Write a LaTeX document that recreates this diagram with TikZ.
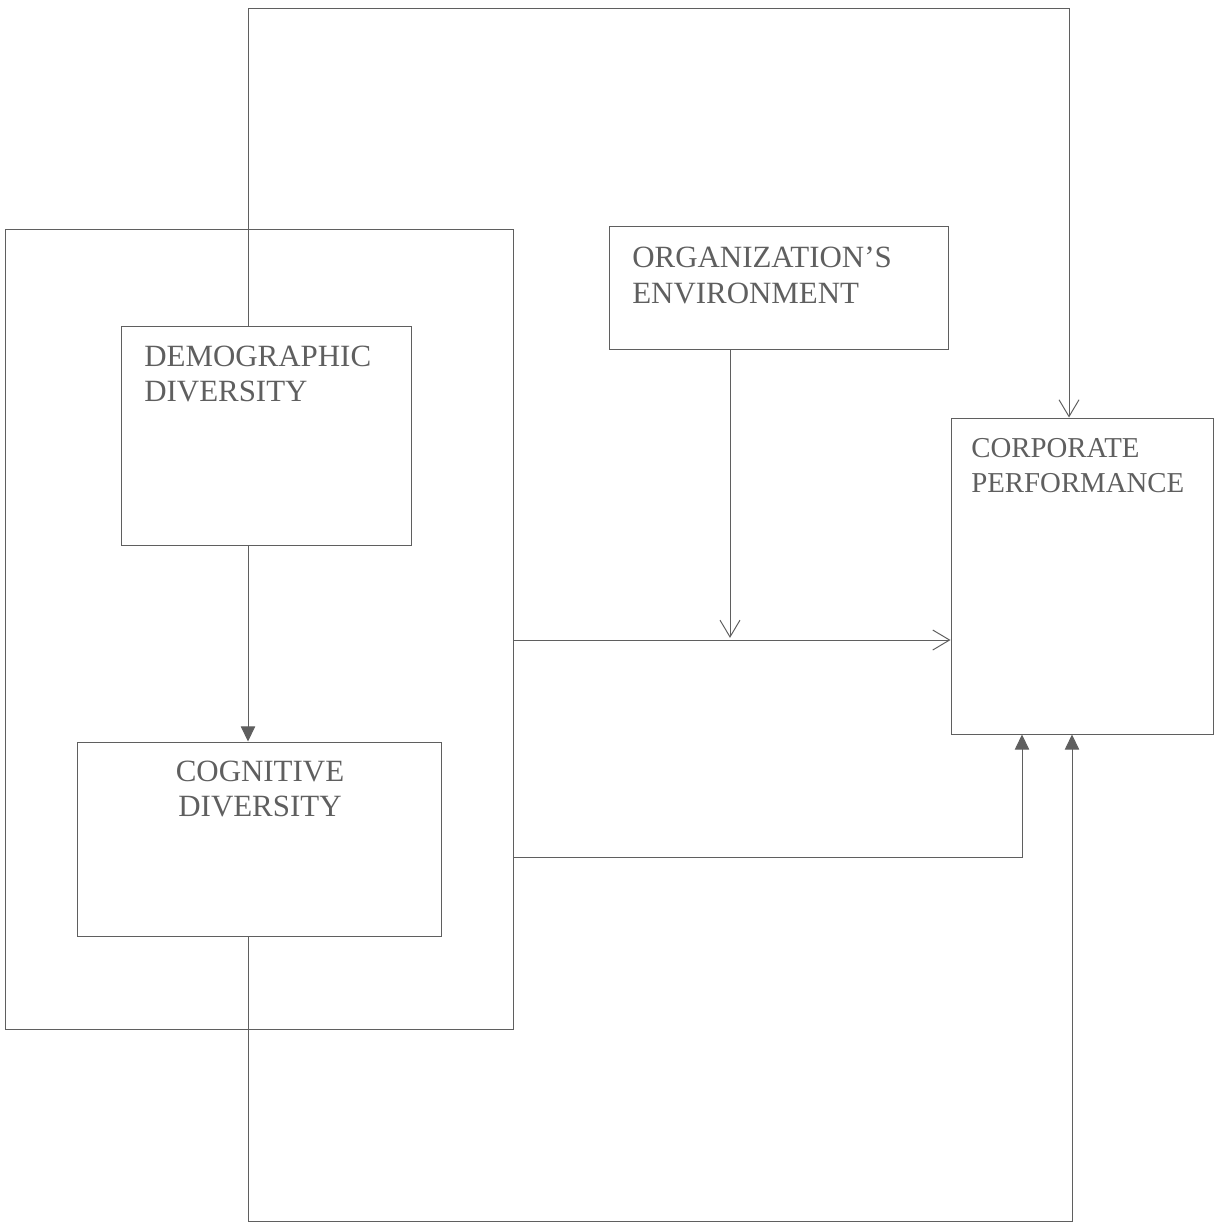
\documentclass[tikz,border=0pt]{standalone}
\usepackage{fontspec}
\setmainfont{Liberation Serif}
\usetikzlibrary{arrows.meta, fit}
\definecolor{inkgray}{RGB}{95,95,95}

\begin{document}
\begin{tikzpicture}[x=0.025cm, y=-0.025cm,
  blk/.style={draw=inkgray, line width=0.7pt, inner sep=0pt},
  lbl/.style={font=\fontsize{22}{25}\selectfont, text=inkgray, inner sep=0pt, align=left},
  wire/.style={draw=inkgray, line width=0.7pt},
  arrV/.style={wire, -{Straight Barb[length=4.2mm, width=5mm]}},
  arrT/.style={wire, -{Triangle[length=3.8mm, width=3.6mm]}}
]
  \useasboundingbox (0,0) rectangle (1220,1224);

  % boxes
  \node[blk, fit={(5,229) (513,1029)}] (team) {};
  \node[blk, fit={(121,326) (411,545)}] (demo) {};
  \node[blk, fit={(77,742) (441,936)}] (cog) {};
  \node[blk, fit={(609,226) (948,349)}] (env) {};
  \node[blk, fit={(951,418) (1213,734)}] (cp) {};

  % labels
  \node[lbl, anchor=north west] (demotxt) at (144,346) {DEMOGRAPHIC\\DIVERSITY};
  \node[lbl, anchor=north, align=center] (cogtxt) at (260,761) {COGNITIVE\\DIVERSITY};
  \node[lbl, anchor=north west] (envtxt) at (632,247) {ORGANIZATION'S\\ENVIRONMENT};
  \node[lbl, anchor=north west, font=\fontsize{20.5}{25}\selectfont] (cptxt) at (971,438) {CORPORATE\\PERFORMANCE};

  % routing points
  \coordinate (upL) at (248,8);
  \coordinate (upR) at (1069,8);
  \coordinate (dnL) at (248,1221);
  \coordinate (dnR) at (1072,1221);
  \coordinate (midL) at (513,640);
  \coordinate (lowL) at (513,857);
  \coordinate (lowR) at (1022,857);
  \coordinate (envx) at (730,0);

  % connectors
  \draw[arrV] (upL |- demo.north) -- (upL) -- (upR) -- (upR |- cp.north);
  \draw[arrT] (upL |- demo.south) -- (upL |- cog.north);
  \draw[arrV, shorten >=1.5pt] (envx |- env.south) -- (envx |- midL);
  \draw[arrV] (team.east |- midL) -- (midL -| cp.west);
  \draw[arrT] (team.east |- lowL) -- (lowR) -- (lowR |- cp.south);
  \draw[arrT] (dnL |- cog.south) -- (dnL) -- (dnR) -- (dnR |- cp.south);
\end{tikzpicture}
\end{document}
